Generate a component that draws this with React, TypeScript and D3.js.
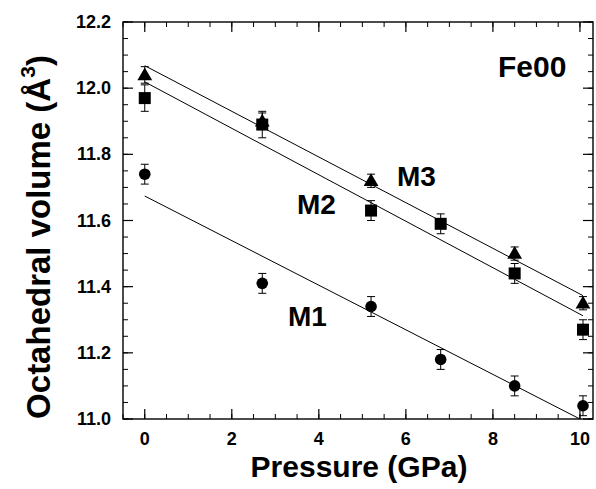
import * as d3 from "d3";

// pressure points (GPa)
const pressures = [0, 2.7, 5.2, 6.8, 8.5, 10.07];

// octahedral volumes (Å^3), null where no site was plotted
const m1Vol = [11.74, 11.41, 11.34, 11.18, 11.1, 11.04];
const m2Vol = [11.97, 11.89, 11.63, 11.59, 11.44, 11.27];
const m3Vol = [12.04, 11.9, 11.72, null, 11.5, 11.35];

const m1Err = [0.03, 0.03, 0.03, 0.03, 0.03, 0.03];
const m2Err = [0.04, 0.04, 0.03, 0.03, 0.03, 0.03];
const m3Err = [0.025, 0.025, 0.02, 0, 0.02, 0.02];

// linear fits: [start, end] in pressure and volume
const m1FitP = [0, 10];
const m1FitV = [11.674, 11.0];
const m2FitP = [0, 10.07];
const m2FitV = [12.019, 11.312];
const m3FitP = [0, 10.07];
const m3FitV = [12.068, 11.373];

const xTickLabels = ["0", "2", "4", "6", "8", "10"];
const yTickLabels = ["11.0", "11.2", "11.4", "11.6", "11.8", "12.0", "12.2"];

const W = 596;
const H = 489;
const left = 123, right = 593, top = 22, bottom = 419;
const font = "'Liberation Sans', Arial, Helvetica, sans-serif";

const x = d3.scaleLinear().domain([-0.5, 10.3]).range([left, right]);
const y = d3.scaleLinear().domain([11.0, 12.2]).range([bottom, top]);

const series = [
  { name: "M1", vol: m1Vol, err: m1Err, fitP: m1FitP, fitV: m1FitV, shape: "circle" },
  { name: "M2", vol: m2Vol, err: m2Err, fitP: m2FitP, fitV: m2FitV, shape: "square" },
  { name: "M3", vol: m3Vol, err: m3Err, fitP: m3FitP, fitV: m3FitV, shape: "triangle" },
];

const triangle = d3.symbol().type(d3.symbolTriangle).size(95);

function Marker({ shape, cx, cy }: { shape: string; cx: number; cy: number }) {
  if (shape === "circle") return <circle cx={cx} cy={cy} r={5.8} fill="#000" />;
  if (shape === "square") return <rect x={cx - 6} y={cy - 6} width={12} height={12} fill="#000" />;
  return <path d={triangle() as string} transform={`translate(${cx},${cy + 1})`} fill="#000" />;
}

export default function App() {
  const xMinor = x.ticks(20);
  const yMinor = y.ticks(24);
  const xMajor = xTickLabels.map(Number);
  const yMajor = yTickLabels.map(Number);

  return (
    <svg
      width={W}
      height={H}
      style={{ position: "absolute", left: 0, top: 0, background: "#fff" }}
      fontFamily={font}
      fontWeight="bold"
    >
      <defs>
        <clipPath id="plot">
          <rect x={left} y={top} width={right - left} height={bottom - top} />
        </clipPath>
      </defs>

      {/* minor ticks */}
      {xMinor.map((t) => (
        <g key={"xm" + t} stroke="#000" strokeWidth={1}>
          <line x1={x(t)} x2={x(t)} y1={bottom} y2={bottom - 5} />
          <line x1={x(t)} x2={x(t)} y1={top} y2={top + 5} />
        </g>
      ))}
      {yMinor.map((t) => (
        <g key={"ym" + t} stroke="#000" strokeWidth={1}>
          <line x1={left} x2={left + 5} y1={y(t)} y2={y(t)} />
          <line x1={right} x2={right - 5} y1={y(t)} y2={y(t)} />
        </g>
      ))}
      {/* major ticks */}
      {xMajor.map((t) => (
        <g key={"xM" + t} stroke="#000" strokeWidth={1.2}>
          <line x1={x(t)} x2={x(t)} y1={bottom} y2={bottom - 10} />
          <line x1={x(t)} x2={x(t)} y1={top} y2={top + 10} />
        </g>
      ))}
      {yMajor.map((t) => (
        <g key={"yM" + t} stroke="#000" strokeWidth={1.2}>
          <line x1={left} x2={left + 10} y1={y(t)} y2={y(t)} />
          <line x1={right} x2={right - 10} y1={y(t)} y2={y(t)} />
        </g>
      ))}

      <rect
        x={left}
        y={top}
        width={right - left}
        height={bottom - top}
        fill="none"
        stroke="#000"
        strokeWidth={1.4}
      />

      {/* tick labels */}
      {xTickLabels.map((l) => (
        <text key={"xl" + l} x={x(+l)} y={445} textAnchor="middle" fontSize={18}>
          {l}
        </text>
      ))}
      {yTickLabels.map((l) => (
        <text key={"yl" + l} x={111} y={y(+l) + 6} textAnchor="end" fontSize={18}>
          {l}
        </text>
      ))}

      {/* fit lines */}
      <g clipPath="url(#plot)">
        {series.map((s) => (
          <line
            key={"fit" + s.name}
            x1={x(s.fitP[0])}
            y1={y(s.fitV[0])}
            x2={x(s.fitP[1])}
            y2={y(s.fitV[1])}
            stroke="#000"
            strokeWidth={1}
          />
        ))}
      </g>

      {/* points with error bars */}
      {series.map((s) =>
        pressures.map((p, i) => {
          const v = s.vol[i];
          if (v == null) return null;
          const cx = x(p);
          const e = s.err[i];
          return (
            <g key={s.name + i}>
              <g stroke="#000" strokeWidth={1}>
                <line x1={cx} x2={cx} y1={y(v - e)} y2={y(v + e)} />
                <line x1={cx - 4} x2={cx + 4} y1={y(v - e)} y2={y(v - e)} />
                <line x1={cx - 4} x2={cx + 4} y1={y(v + e)} y2={y(v + e)} />
              </g>
              <Marker shape={s.shape} cx={cx} cy={y(v)} />
            </g>
          );
        })
      )}

      {/* labels */}
      <text x={498} y={77} fontSize={30}>Fe00</text>
      <text x={397} y={186} fontSize={28}>M3</text>
      <text x={297} y={214} fontSize={28}>M2</text>
      <text x={288} y={326} fontSize={28}>M1</text>

      <text x={359} y={477} textAnchor="middle" fontSize={30}>
        Pressure (GPa)
      </text>
      <text
        transform="translate(50,237) rotate(-90)"
        textAnchor="middle"
        fontSize={33}
      >
        Octahedral volume (Å
        <tspan fontSize={21} dy={-15}>3</tspan>
        <tspan dy={15}>)</tspan>
      </text>
    </svg>
  );
}
